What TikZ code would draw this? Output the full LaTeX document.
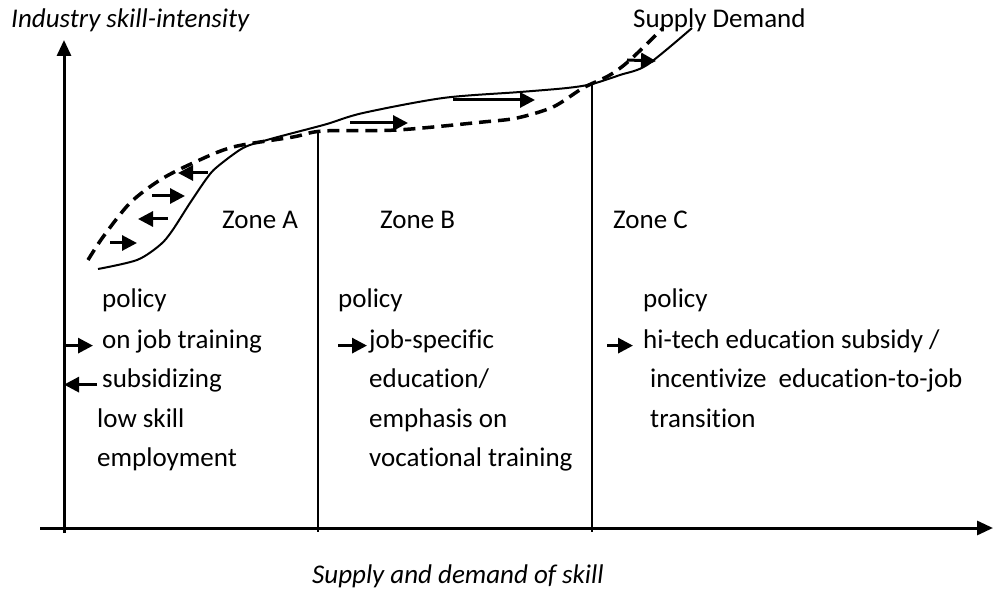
\documentclass[tikz,border=0pt]{standalone}
\usepackage{fontspec}
\setmainfont{Carlito}[Ligatures=NoCommon]
\usetikzlibrary{arrows.meta}

\begin{document}
\begin{tikzpicture}[x=1pt, y=-1pt,
	txt/.style={anchor=base west, inner sep=0pt, font=\fontsize{27}{32}\selectfont},
	ttl/.style={txt, font=\fontsize{27}{32}\selectfont\itshape},
	axis/.style={line width=3pt, -{Triangle[length=16pt,width=14pt]}},
	zone/.style={line width=1.5pt},
	pa/.style={line width=3pt, -{Triangle[length=15pt,width=15pt]}},
	demand/.style={line width=2pt, line join=round},
	supply/.style={line width=3.5pt, dash pattern=on 12pt off 7pt}]
	\useasboundingbox (0,0) rectangle (995,593);

	% axes
	\coordinate (yax) at (64,0);
	\draw[axis] (40,528) -- (993,528);
	\draw[axis] (64,533) -- (64,40);
	\node[ttl] (ylab) at (11,28) {Industry skill-intensity};
	\node[ttl] (xlab) at (312,583) {Supply and demand of skill};

	% zone borders
	\draw[zone] (318,131) -- (318,532);
	\draw[zone] (592,85) -- (592,532);

	% demand (solid) and supply (dashed)
	\draw[demand] plot[smooth, tension=0.5] coordinates {(98,269) (137,260) (160,245) (172,231) (190,203) (207,178) (217,167) (243,148) (267,140) (293,133) (327,124) (363,113) (443,98) (520,92) (567,88) (592,84) (620,75) (647,65) (692,28)};
	\draw[supply] plot[smooth, tension=0.5] coordinates {(88,260) (103,237) (130,203) (160,180) (193,163) (233,147) (293,137) (323,131) (397,130) (483,122) (517,118) (553,107) (583,88) (610,75) (630,60) (663,28)};
	\node[txt] (sd) at (633,28) {Supply Demand};

	% shifts of the curves
	\draw[pa] (208,173) -- (178,173);
	\draw[pa] (152,196) -- (185,196);
	\draw[pa] (168,219) -- (138,219);
	\draw[pa] (110,243) -- (137,243);
	\draw[pa] (350,123) -- (408,123);
	\draw[pa] (453,100) -- (535,100);
	\draw[pa] (627,60) -- (656,61);

	% zone A
	\node[txt] (za) at (222,229) {Zone A};
	\node[txt] (pa1) at (102,308) {policy};
	\node[txt] (ojt) at (102,348) {on job training};
	\node[txt] (sub) at (102,387) {subsidizing};
	\node[txt] (lsk) at (97,427) {low skill};
	\node[txt] (emp) at (97,466) {employment};
	\draw[pa] (yax |- ojt.mid west) -- ([xshift=-9pt]ojt.mid west);
	\draw[pa] ([xshift=-5pt]sub.mid west) -- (yax |- sub.mid west);

	% zone B
	\node[txt] (zb) at (380,229) {Zone B};
	\node[txt] (pb1) at (338,308) {policy};
	\node[txt] (jsp) at (369,348) {job-specific};
	\node[txt] (edu) at (369,387) {education/};
	\node[txt] (emph) at (369,427) {emphasis on};
	\node[txt] (voc) at (369,466) {vocational training};
	\draw[pa] ([xshift=-31pt]jsp.mid west) -- ([xshift=-2pt]jsp.mid west);

	% zone C
	\node[txt] (zc) at (613,229) {Zone C};
	\node[txt] (pc1) at (643,308) {policy};
	\node[txt] (hit) at (643,348) {hi-tech education subsidy /};
	\node[txt] (inc) at (650,387) {incentivize\ \ education-to-job};
	\node[txt] (trn) at (650,427) {transition};
	\draw[pa] ([xshift=-36pt]hit.mid west) -- ([xshift=-10pt]hit.mid west);
\end{tikzpicture}
\end{document}
